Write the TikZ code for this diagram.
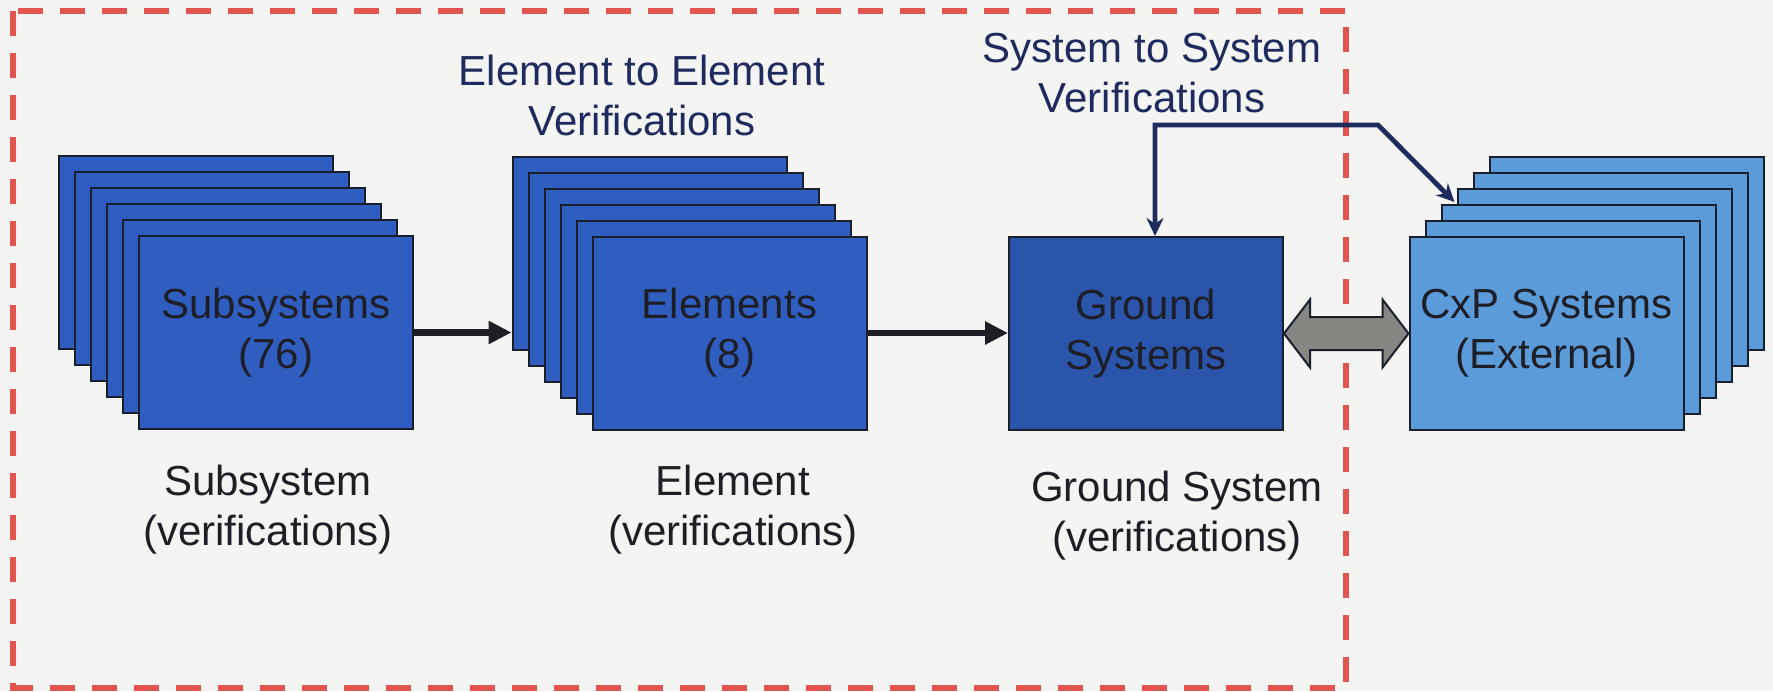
\documentclass[tikz,border=0pt]{standalone}
\usepackage{fontspec}
\setmainfont{Liberation Sans}
\usetikzlibrary{arrows.meta,calc}
\definecolor{bg}{HTML}{F4F4F2}
\definecolor{boxblue}{HTML}{2F5EC0}
\definecolor{gndblue}{HTML}{2A55AA}
\definecolor{lightblue}{HTML}{5B9BDA}
\definecolor{edge}{HTML}{1A1F2E}
\definecolor{redd}{HTML}{E2544E}
\definecolor{navy}{HTML}{1F2A5E}
\definecolor{arrowgray}{HTML}{868682}
\definecolor{txt}{HTML}{1E1E26}
\begin{document}
\begin{tikzpicture}[x=0.5pt,y=-0.5pt,
  card/.style={draw=edge, line width=1pt, fill=boxblue, minimum width=137pt, minimum height=96.5pt, inner sep=0pt, font=\fontsize{21}{25}\selectfont, text=txt, align=center},
  toplbl/.style={font=\fontsize{21}{25}\selectfont, text=navy, align=center, inner sep=0pt},
  botlbl/.style={font=\fontsize{21}{25}\selectfont, text=txt, align=center, inner sep=0pt},
  blackarrow/.style={draw=txt, line width=3.2pt, -{Triangle[length=11.5pt,width=11pt]}},
  navyarrow/.style={draw=navy, line width=2.4pt, {Stealth[length=9pt,width=8.5pt]}-{Stealth[length=9pt,width=8.5pt]}},
  frame/.style={draw=redd, line width=3pt, dash pattern=on 12.5pt off 8.5pt}
]
\fill[bg] (0,0) rectangle (1773,691);
\useasboundingbox (0,0) rectangle (1773,691);

% dashed frame
\draw[frame] (13,11) rectangle (1346,688);

% Subsystems stack
\foreach \i in {0,...,4} \node[card] (sub\i) at ({196+16*\i},{252.5+16*\i}) {};
\node[card] (sub) at (276,332.5) {Subsystems\\(76)};

% Elements stack
\foreach \i in {0,...,4} \node[card] (el\i) at ({649.5+16*\i},{253+16*\i}) {};
\node[card] (el) at (729.5,333) {Elements\\(8)};

% Ground systems
\node[card, fill=gndblue] (gs) at (1146,333.5) {Ground\\Systems};

% CxP stack
\foreach \i in {0,...,4} \node[card, fill=lightblue] (cxp\i) at ({1626.5-16*\i},{253.5+16*\i}) {};
\node[card, fill=lightblue] (cxp) at (1546.5,333.5) {CxP Systems\\(External)};

% black arrows
\draw[blackarrow] (sub.east) -- (sub.east -| el0.west);
\draw[blackarrow] (el.east) -- (el.east -| gs.west);

% grey double arrow
\filldraw[fill=arrowgray, draw=edge, line width=1pt]
  (gs.east) -- ($(gs.east)+(26,-34)$) -- ($(gs.east)+(26,-16.5)$)
  -- ($(cxp.west)+(-26,-16.5)$) -- ($(cxp.west)+(-26,-34)$) -- (cxp.west)
  -- ($(cxp.west)+(-26,34)$) -- ($(cxp.west)+(-26,16.5)$)
  -- ($(gs.east)+(26,16.5)$) -- ($(gs.east)+(26,34)$) -- cycle;

% navy connector
\coordinate (bend) at (1378,125);
\draw[navyarrow] ([xshift=4.5pt]gs.north) |- (bend) -- ([xshift=-1pt,yshift=1pt]cxp2.west |- cxp3.north);

% labels
\node[toplbl] (l1) at (642,95) {Element to Element\\Verifications};
\node[toplbl] (l2) at (1152,73) {System to System\\Verifications};
\node[botlbl] (s1) at (268,510) {Subsystem\\(verifications)};
\node[botlbl] (s2) at (733,510) {Element\\(verifications)};
\node[botlbl] (s3) at (1177,516) {Ground System\\(verifications)};
\end{tikzpicture}
\end{document}
